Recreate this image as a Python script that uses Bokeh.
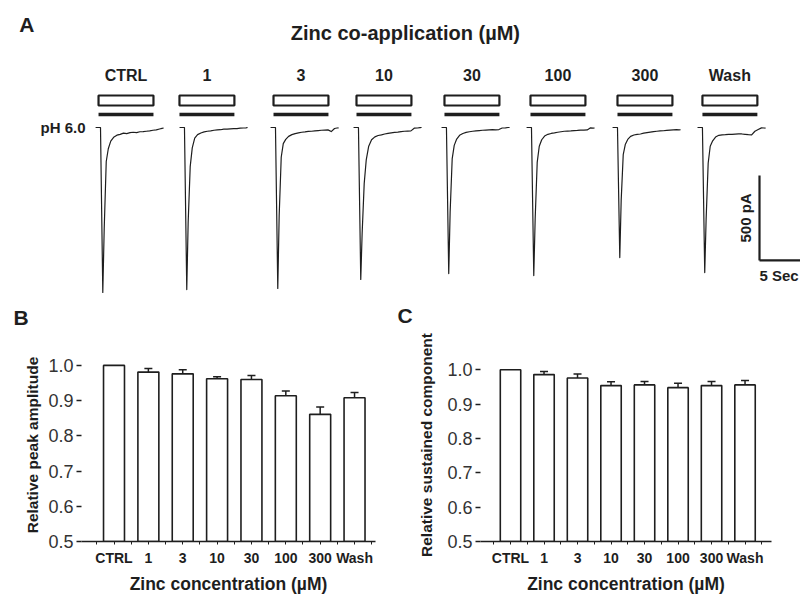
import numpy as np
from bokeh.plotting import figure
from bokeh.models import (Range1d, ColumnDataSource, FixedTicker, PrintfTickFormatter,
                          Whisker, TeeHead)
from bokeh.layouts import column, row
from bokeh.core.properties import value
from bokeh.embed import file_html
from bokeh.resources import INLINE

FONT = "Liberation Sans"
INK = "#1e1e1e"

# ---------------- Panel A data (traces) ----------------
conditions = ["CTRL", "1", "3", "10", "30", "100", "300", "Wash"]
onset_s = [11.22, 21.46, 32.56, 42.68, 53.41, 63.78, 74.27, 84.63]      # drop of each sweep (s)
app_start_s = [10.98, 20.85, 32.32, 42.44, 53.17, 63.66, 74.27, 84.63]  # application bar start (s)
app_dur_s = 6.7
t_rel = [-0.6, 0.0, 0.28, 0.45, 0.7, 0.95, 1.25, 1.6, 2.0, 2.4, 2.8, 3.2,
         3.6, 4.0, 4.4, 4.8, 5.2, 5.6, 6.0, 6.4, 6.8, 7.2, 7.5, 7.7]
tr_ctrl = [0, 0, -970, -600, -200, -125, -80, -58, -45, -40, -33, -36, -30, -28, -30, -25, -24, -22, -20, -16, -14, -9, -5, -3]
tr_1 = [0, 0, -953, -560, -230, -120, -62, -42, -32, -26, -22, -20, -16, -14, -13, -10, -10, -8, -7, -6, -4, -3, -2, 0]
tr_3 = [0, 0, -947, -520, -175, -95, -70, -52, -42, -36, -32, -28, -26, -23, -22, -20, -18, -16, -15, -14, -24, -6, -3, -2]
tr_10 = [0, 0, -894, -620, -330, -190, -110, -72, -55, -47, -43, -38, -34, -31, -29, -27, -24, -22, -21, -20, -4, -3, -1, 0]
tr_30 = [0, 0, -859, -500, -185, -105, -68, -46, -35, -29, -25, -22, -20, -18, -16, -15, -14, -13, -14, -12, -3, -2, 0, 0]
tr_100 = [0, 0, -871, -540, -205, -110, -72, -50, -40, -35, -32, -28, -25, -22, -21, -20, -18, -17, -15, -15, -14, -2, -4, -3]
tr_300 = [0, 0, -765, -430, -160, -100, -70, -52, -44, -40, -38, -33, -30, -27, -24, -22, -20, -19, -17, -15, -14, -13, -14, -13]
tr_wash = [0, 0, -853, -540, -210, -110, -78, -56, -46, -43, -42, -40, -40, -39, -38, -38, -40, -42, -43, -22, -12, -2, -3, -4]
traces = [tr_ctrl, tr_1, tr_3, tr_10, tr_30, tr_100, tr_300, tr_wash]
scale_t = 5      # s
scale_i = 500    # pA

# ---------------- Panels B, C data ----------------
categories = ["CTRL", "1", "3", "10", "30", "100", "300", "Wash"]
peak_vals = [1.0, 0.981, 0.976, 0.962, 0.960, 0.914, 0.861, 0.908]
peak_sem = [0.0, 0.010, 0.012, 0.006, 0.011, 0.013, 0.021, 0.015]
sust_vals = [1.0, 0.986, 0.976, 0.954, 0.956, 0.948, 0.954, 0.956]
sust_sem = [0.0, 0.009, 0.012, 0.011, 0.010, 0.013, 0.012, 0.013]
y_ticks = [0.5, 0.6, 0.7, 0.8, 0.9, 1.0]

# ================= Panel A (also carries the B / C panel letters) =================
pA = figure(width=800, height=330, x_range=Range1d(-0.976, 96.59), y_range=Range1d(-1194.0, 747.1),
            x_axis_type=None, y_axis_type=None, toolbar_location=None,
            output_backend="svg", title=None, min_border=0)
pA.outline_line_color = None
pA.xgrid.visible = False
pA.ygrid.visible = False

xs = [[o + t for t in t_rel] for o in onset_s]
pA.multi_line(xs=xs, ys=traces, line_color=INK, line_width=1.2, line_join="round")

app_end_s = [s + app_dur_s for s in app_start_s]
pA.quad(left=app_start_s, right=app_end_s, bottom=129.4, top=188.2,
        fill_color=None, line_color=INK, line_width=2.2)
pA.segment(x0=app_start_s, x1=app_end_s, y0=76.5, y1=76.5, line_color=INK, line_width=3.5)

centers = [(a + b) / 2 for a, b in zip(app_start_s, app_end_s)]
pA.text(x=centers, y=[306] * len(centers), text=conditions, text_align="center",
        text_baseline="middle", text_font=value(FONT), text_font_style="bold",
        text_font_size="16px", text_color=INK)

pA.text(x=[48.4], y=[553], text=["Zinc co-application (µM)"], text_align="center",
        text_baseline="middle", text_font=value(FONT), text_font_style="bold",
        text_font_size="20px", text_color=INK)
pA.text(x=[1.3, 0.61, 47.44], y=[606, -1117.6, -1105.9], text=["A", "B", "C"],
        text_align="left", text_baseline="middle",
        text_font=value(FONT), text_font_style="bold", text_font_size="21px", text_color=INK)
pA.text(x=[9.39], y=[0], text=["pH 6.0"], text_align="right", text_baseline="middle",
        text_font=value(FONT), text_font_style="bold", text_font_size="15px", text_color=INK)

# scale bar
sb_x, sb_y = 91.59, -782
pA.segment(x0=[sb_x, sb_x], y0=[sb_y, sb_y], x1=[sb_x, sb_x + scale_t], y1=[sb_y + scale_i, sb_y],
           line_color=INK, line_width=2.2)
pA.text(x=[sb_x - 1.7], y=[sb_y + scale_i / 2], text=[f"{scale_i} pA"], angle=np.pi / 2,
        text_align="center", text_baseline="middle", text_font=value(FONT),
        text_font_style="bold", text_font_size="15px", text_color=INK)
pA.text(x=[sb_x], y=[sb_y - 88], text=[f"{scale_t} Sec"], text_align="left",
        text_baseline="middle", text_font=value(FONT), text_font_style="bold",
        text_font_size="15px", text_color=INK)


# ================= Panels B, C =================
def bar_panel(vals, sem, ylabel, width, xr, yr, bl, br, title_standoff):
    p = figure(width=width, height=269, x_range=Range1d(*xr), y_range=Range1d(*yr),
               toolbar_location=None, output_backend="svg", title=None,
               min_border_left=bl, min_border_right=br, min_border_top=18, min_border_bottom=58)
    p.outline_line_color = None
    p.xgrid.visible = False
    p.ygrid.visible = False
    x = list(range(len(categories)))
    p.vbar(x=x, top=vals, bottom=0.5, width=0.61, fill_color="white",
           line_color=INK, line_width=1.6)
    idx = [i for i in x if sem[i] > 0]
    src = ColumnDataSource(dict(x=[x[i] for i in idx], lo=[vals[i] for i in idx],
                                hi=[vals[i] + sem[i] for i in idx]))
    p.add_layout(Whisker(source=src, base="x", lower="lo", upper="hi", dimension="height",
                         lower_head=None, upper_head=TeeHead(size=8, line_color=INK, line_width=1.5),
                         line_color=INK, line_width=1.5))
    # y axis
    ya = p.yaxis[0]
    ya.ticker = FixedTicker(ticks=y_ticks)
    ya.formatter = PrintfTickFormatter(format="%.1f")
    ya.axis_line_color = None
    ya.major_tick_out = 5
    ya.major_tick_in = 0
    ya.minor_tick_out = 0
    ya.minor_tick_in = 0
    ya.major_tick_line_color = INK
    ya.major_tick_line_width = 1.3
    ya.major_label_standoff = 3
    ya.major_label_text_font = FONT
    ya.major_label_text_font_size = "18px"
    ya.major_label_text_color = "#333333"
    ya.axis_label = ylabel
    ya.axis_label_standoff = title_standoff
    ya.axis_label_text_font = FONT
    ya.axis_label_text_font_style = "bold"
    ya.axis_label_text_font_size = "15.5px"
    ya.axis_label_text_color = INK
    # x axis
    xa = p.xaxis[0]
    xa.ticker = FixedTicker(ticks=x, minor_ticks=[i - 0.5 for i in range(len(x) + 1)])
    xa.major_label_overrides = {i: c for i, c in enumerate(categories)}
    xa.axis_line_color = INK
    xa.axis_line_width = 1.6
    xa.major_tick_out = 3
    xa.major_tick_in = 0
    xa.minor_tick_out = 3
    xa.minor_tick_in = 0
    xa.major_tick_line_color = INK
    xa.minor_tick_line_color = INK
    xa.major_label_standoff = 5
    xa.major_label_text_font = FONT
    xa.major_label_text_font_style = "bold"
    xa.major_label_text_font_size = "14px"
    xa.major_label_text_color = INK
    xa.axis_label = "Zinc concentration (µM)"
    xa.axis_label_standoff = 5
    xa.axis_label_text_font = FONT
    xa.axis_label_text_font_style = "bold"
    xa.axis_label_text_font_size = "17.5px"
    xa.axis_label_text_color = INK
    return p


pB = bar_panel(peak_vals, peak_sem, "Relative peak amplitude", 392, (-0.946, 7.61), (0.5, 1.048),
               81, 17, 4)
pC = bar_panel(sust_vals, sust_sem, "Relative sustained component", 408, (-0.896, 7.79), (0.5, 1.062),
               88, 29, 9)

layout = column(pA, row(pB, pC))
open("out.html", "w").write(file_html(layout, INLINE))
